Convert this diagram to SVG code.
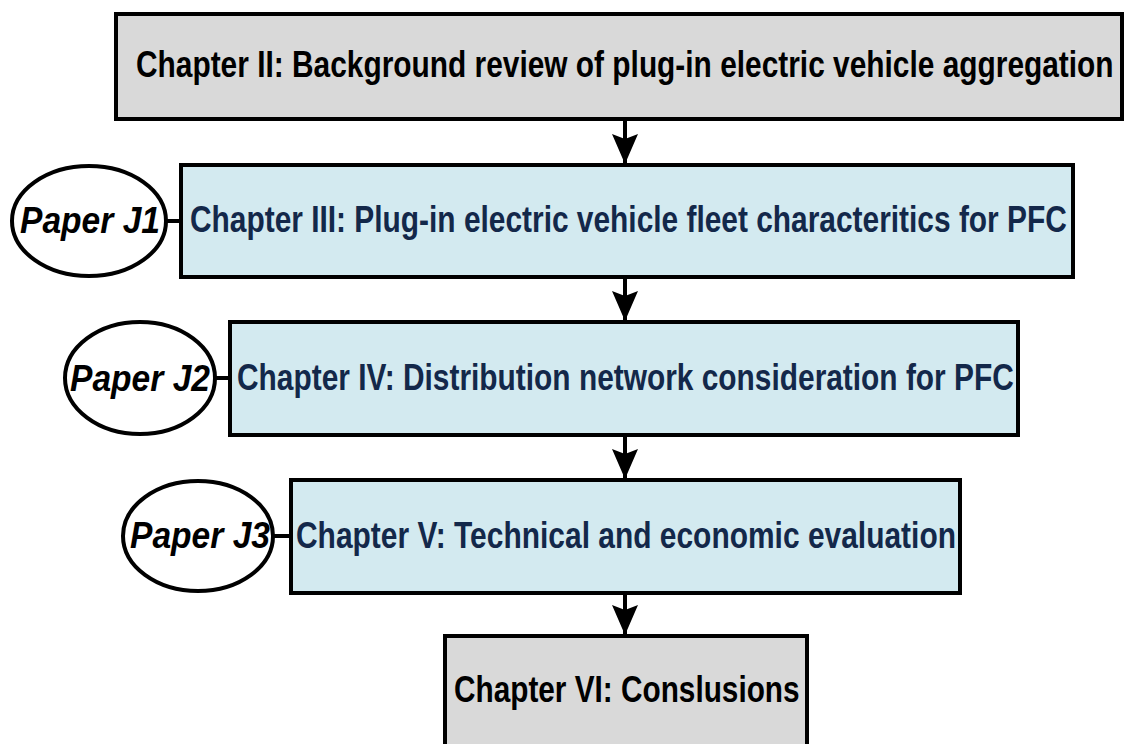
<svg xmlns="http://www.w3.org/2000/svg" width="1124" height="744" viewBox="0 0 1124 744">
<style>
.box{stroke:#000;stroke-width:4}
.gray{fill:#d9d9d9}
.blue{fill:#d3eaf0}
.t{font-family:"Liberation Sans",Arial,sans-serif;font-weight:bold;font-size:37.5px}
.tb{fill:#000}
.tn{fill:#13284a}
.ell{fill:#fff;stroke:#000;stroke-width:4}
.pt{font-family:"Liberation Sans",Arial,sans-serif;font-weight:bold;font-style:italic;font-size:37.5px;fill:#000}
.ln{stroke:#000;stroke-width:4;fill:none}
</style>
<defs>
<marker id="ah" viewBox="0 0 30 26" refX="30" refY="13" markerWidth="30" markerHeight="26" markerUnits="userSpaceOnUse" orient="auto">
<path d="M0,0 L30,13 L0,26 L5,13 Z" fill="#000"/>
</marker>
</defs>
<rect width="1124" height="744" fill="#fff"/>
<g id="connectors">
<line class="ln" x1="625" y1="119" x2="625" y2="164" marker-end="url(#ah)"/>
<line class="ln" x1="625" y1="277" x2="625" y2="321" marker-end="url(#ah)"/>
<line class="ln" x1="625" y1="435" x2="625" y2="479" marker-end="url(#ah)"/>
<line class="ln" x1="625" y1="593" x2="625" y2="635" marker-end="url(#ah)"/>
<line class="ln" x1="166" y1="221" x2="181" y2="221"/>
<line class="ln" x1="215" y1="378" x2="230" y2="378"/>
<line class="ln" x1="274" y1="536" x2="291" y2="536"/>
</g>
<g id="ch2">
<rect class="box gray" x="116" y="14" width="1006" height="105"/>
<text class="t tb" transform="translate(136,77) scale(0.8,1)" textLength="1222" lengthAdjust="spacingAndGlyphs">Chapter II: Background review of plug-in electric vehicle aggregation</text>
</g>
<g id="ch3">
<rect class="box blue" x="181" y="165" width="892" height="112"/>
<text class="t tn" transform="translate(190,232) scale(0.8,1)" textLength="1096" lengthAdjust="spacingAndGlyphs">Chapter III: Plug-in electric vehicle fleet characteritics for PFC</text>
</g>
<g id="ch4">
<rect class="box blue" x="230" y="322" width="788" height="113"/>
<text class="t tn" transform="translate(237,390) scale(0.8,1)" textLength="971" lengthAdjust="spacingAndGlyphs">Chapter IV: Distribution network consideration for PFC</text>
</g>
<g id="ch5">
<rect class="box blue" x="291" y="480" width="669" height="113"/>
<text class="t tn" transform="translate(296,548) scale(0.8,1)" textLength="825" lengthAdjust="spacingAndGlyphs">Chapter V: Technical and economic evaluation</text>
</g>
<g id="ch6">
<rect class="box gray" x="445" y="636" width="362" height="120"/>
<text class="t tb" transform="translate(454,702) scale(0.8,1)" textLength="432" lengthAdjust="spacingAndGlyphs">Chapter VI: Conslusions</text>
</g>
<g id="j1">
<ellipse class="ell" cx="89" cy="221" rx="77" ry="55"/>
<text class="pt" transform="translate(20,233) scale(0.8,1)" textLength="175" lengthAdjust="spacingAndGlyphs">Paper J1</text>
</g>
<g id="j2">
<ellipse class="ell" cx="140" cy="378" rx="75" ry="56"/>
<text class="pt" transform="translate(70,391) scale(0.8,1)" textLength="175" lengthAdjust="spacingAndGlyphs">Paper J2</text>
</g>
<g id="j3">
<ellipse class="ell" cx="198" cy="536" rx="75" ry="55"/>
<text class="pt" transform="translate(130,548) scale(0.8,1)" textLength="175" lengthAdjust="spacingAndGlyphs">Paper J3</text>
</g>
</svg>
